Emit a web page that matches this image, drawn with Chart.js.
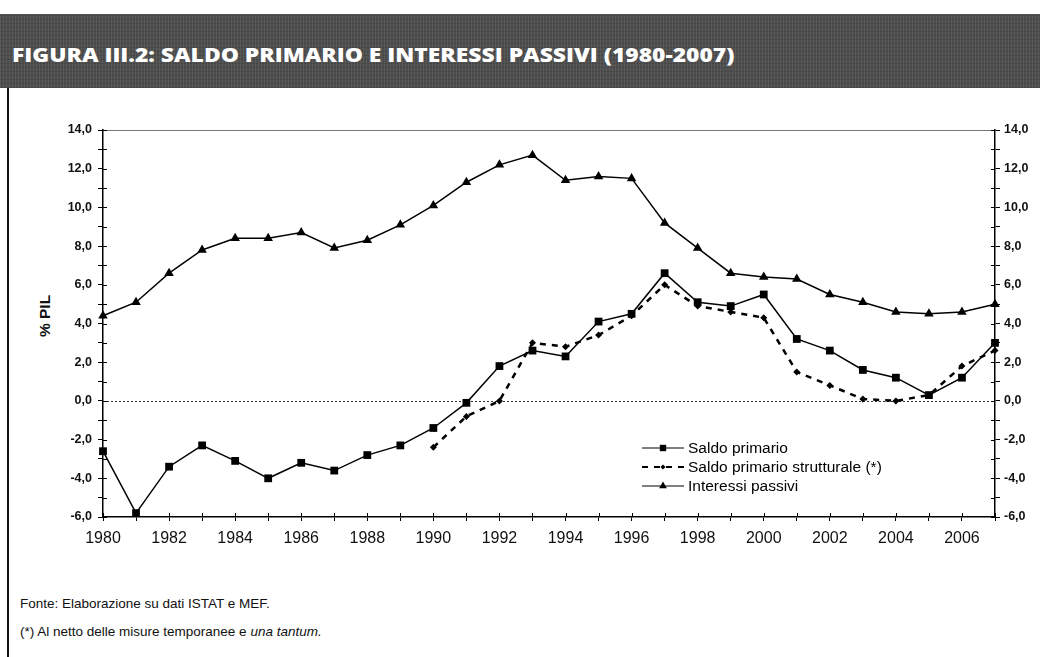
<!DOCTYPE html>
<html lang="it">
<head>
<meta charset="utf-8">
<title>Figura III.2 - Saldo primario e interessi passivi (1980-2007)</title>
<script src="https://cdn.jsdelivr.net/npm/chart.js@4.4.1/dist/chart.umd.min.js"></script>
<style>
    html, body { margin: 0; padding: 0; background: #fff; }
    body { width: 1040px; height: 657px; position: relative; overflow: hidden;
           font-family: Arial, "Liberation Sans", sans-serif; color: #111; }
    #band { position: absolute; left: 0; top: 14px; width: 1040px; height: 74px;
            background-color: #4e4e4e;
            background-image:
                repeating-linear-gradient(90deg, rgba(255,255,255,.07) 0 1px, transparent 1px 3px),
                repeating-linear-gradient(0deg, rgba(0,0,0,.12) 0 1px, transparent 1px 4px); }
    #title { position: absolute; left: 12px; top: 43px; color: #fff; white-space: nowrap;
             font: 800 20px "Open Sans", "DejaVu Sans", sans-serif; line-height: 24px;
             transform-origin: left center; }
    #frame { position: absolute; left: 7px; top: 88px; width: 2px; height: 569px; background: #111; }
    #ylab { position: absolute; left: 45px; top: 316px; font-weight: bold; font-size: 15.5px;
            transform: translate(-50%, -50%) rotate(-90deg); white-space: nowrap; }
    .note { position: absolute; left: 20px; font-size: 13.5px; white-space: nowrap; }
    canvas { position: absolute; left: 0; top: 0; }
</style>
</head>
<body>
<div id="band"></div>
<div id="title">FIGURA III.2: SALDO PRIMARIO E INTERESSI PASSIVI (1980-2007)</div>
<div id="frame"></div>
<div id="ylab">% PIL</div>
<div class="note" style="top:596px">Fonte: Elaborazione su dati ISTAT e MEF.</div>
<div class="note" style="top:624px">(*) Al netto delle misure temporanee e <i>una tantum.</i></div>
<canvas id="chart" width="1040" height="657"></canvas>
<script>
'use strict';

const years = [1980, 1981, 1982, 1983, 1984, 1985, 1986, 1987, 1988, 1989,
               1990, 1991, 1992, 1993, 1994, 1995, 1996, 1997, 1998, 1999,
               2000, 2001, 2002, 2003, 2004, 2005, 2006, 2007];

const saldoPrimario = [-2.6, -5.8, -3.4, -2.3, -3.1, -4.0, -3.2, -3.6, -2.8, -2.3,
                       -1.4, -0.1, 1.8, 2.6, 2.3, 4.1, 4.5, 6.6, 5.1, 4.9,
                       5.5, 3.2, 2.6, 1.6, 1.2, 0.3, 1.2, 3.0];

const saldoStrutturale = [null, null, null, null, null, null, null, null, null, null,
                          -2.4, -0.8, 0.0, 3.0, 2.8, 3.4, 4.4, 6.0, 4.9, 4.6,
                          4.3, 1.5, 0.8, 0.1, 0.0, 0.3, 1.8, 2.6];

const interessiPassivi = [4.4, 5.1, 6.6, 7.8, 8.4, 8.4, 8.7, 7.9, 8.3, 9.1,
                          10.1, 11.3, 12.2, 12.7, 11.4, 11.6, 11.5, 9.2, 7.9, 6.6,
                          6.4, 6.3, 5.5, 5.1, 4.6, 4.5, 4.6, 5.0];

const yMin = -6, yMax = 14;

// squeeze the title into the width it has in the print
(function () {
    const t = document.getElementById('title');
    t.style.transform = 'scaleX(' + (723 / t.offsetWidth) + ')';
})();

const fmt = v => (v % 2 === 0) ? v.toFixed(1).replace('.', ',') : '';

// zero line, top border and the inner half of the crossing ticks
const frameLines = {
    id: 'frameLines',
    beforeDatasetsDraw(chart) {
        const { ctx, chartArea: a, scales } = chart;
        ctx.save();
        ctx.strokeStyle = '#333';
        ctx.lineWidth = 1;
        ctx.setLineDash([2, 2]);
        const y0 = Math.round(scales.y.getPixelForValue(0)) + 0.5;
        ctx.beginPath(); ctx.moveTo(a.left, y0); ctx.lineTo(a.right, y0); ctx.stroke();
        ctx.setLineDash([]);
        ctx.strokeStyle = '#777';
        ctx.beginPath(); ctx.moveTo(a.left, a.top + 0.5); ctx.lineTo(a.right, a.top + 0.5); ctx.stroke();

        ctx.strokeStyle = '#000';
        scales.y.ticks.forEach((t, i) => {
            const p = Math.round(scales.y.getPixelForTick(i)) + 0.5;
            ctx.beginPath(); ctx.moveTo(a.left, p); ctx.lineTo(a.left + 4, p); ctx.stroke();
        });
        scales.y2.ticks.forEach((t, i) => {
            const p = Math.round(scales.y2.getPixelForTick(i)) + 0.5;
            ctx.beginPath(); ctx.moveTo(a.right, p); ctx.lineTo(a.right - 4, p); ctx.stroke();
        });
        scales.x.ticks.forEach((t, i) => {
            const p = Math.round(scales.x.getPixelForTick(i)) + 0.5;
            ctx.beginPath(); ctx.moveTo(p, a.bottom); ctx.lineTo(p, a.bottom - 4); ctx.stroke();
        });
        ctx.restore();
    }
};

function drawMarker(ctx, style, x, y, r) {
    ctx.beginPath();
    if (style === 'rect') {
        const s = Math.SQRT1_2 * r;
        ctx.rect(x - s, y - s, 2 * s, 2 * s);
    } else if (style === 'rectRot') {
        ctx.moveTo(x, y - r); ctx.lineTo(x + r, y); ctx.lineTo(x, y + r); ctx.lineTo(x - r, y);
        ctx.closePath();
    } else {
        ctx.moveTo(x, y - r);
        ctx.lineTo(x + r * 0.866, y + r * 0.5);
        ctx.lineTo(x - r * 0.866, y + r * 0.5);
        ctx.closePath();
    }
    ctx.fill();
}

// legend sits inside the plot, lower right, like the original
const insideLegend = {
    id: 'insideLegend',
    afterDraw(chart) {
        const { ctx } = chart;
        const x0 = 642, w = 42, rows = [448, 467, 486];
        ctx.save();
        ctx.font = '15.5px Arial, "Liberation Sans", sans-serif';
        ctx.textBaseline = 'middle';
        chart.data.datasets.forEach((ds, i) => {
            const y = rows[i];
            ctx.strokeStyle = '#000';
            ctx.fillStyle = '#000';
            ctx.lineWidth = ds.borderDash ? 2 : 1;
            ctx.setLineDash(ds.borderDash || []);
            ctx.beginPath(); ctx.moveTo(x0, y); ctx.lineTo(x0 + w, y); ctx.stroke();
            ctx.setLineDash([]);
            drawMarker(ctx, ds.pointStyle, x0 + w / 2, y, ds.pointRadius - 1);
            ctx.fillText(ds.label, x0 + w + 4, y + 1);
        });
        ctx.restore();
    }
};

const tickFont = { family: 'Arial, "Liberation Sans", sans-serif', size: 12.5, weight: 'bold' };

new Chart(document.getElementById('chart'), {
    type: 'line',
    data: {
        labels: years,
        datasets: [
            { label: 'Saldo primario', data: saldoPrimario, yAxisID: 'y',
              borderColor: '#000', backgroundColor: '#000', borderWidth: 1.5,
              pointStyle: 'rect', pointRadius: 5.5, pointBorderWidth: 0, tension: 0 },
            { label: 'Saldo primario strutturale (*)', data: saldoStrutturale, yAxisID: 'y',
              borderColor: '#000', backgroundColor: '#000', borderWidth: 2.5, borderDash: [6, 6],
              pointStyle: 'rectRot', pointRadius: 3.5, pointBorderWidth: 0, tension: 0, spanGaps: false },
            { label: 'Interessi passivi', data: interessiPassivi, yAxisID: 'y',
              borderColor: '#000', backgroundColor: '#000', borderWidth: 1.5,
              pointStyle: 'triangle', pointRadius: 5.5, pointBorderWidth: 0, tension: 0 }
        ]
    },
    options: {
        responsive: false,
        animation: false,
        devicePixelRatio: 1,
        clip: false,
        layout: { padding: { top: 130, left: 0, right: 0, bottom: 0 } },
        plugins: { legend: { display: false }, tooltip: { enabled: false } },
        scales: {
            x: {
                type: 'category',
                offset: false,
                grid: { drawOnChartArea: false, drawTicks: true, tickLength: 4, tickColor: '#000' },
                border: { color: '#000', width: 1.5 },
                ticks: {
                    autoSkip: false, maxRotation: 0, padding: 8, color: '#111',
                    font: { family: 'Arial, "Liberation Sans", sans-serif', size: 16 },
                    callback: function (v, i) { return years[i] % 2 === 0 ? String(years[i]) : ''; }
                },
                afterFit: s => { s.height = 140; }
            },
            y: {
                position: 'left', min: yMin, max: yMax,
                grid: { drawOnChartArea: false, tickLength: 5, tickColor: '#000' },
                border: { color: '#000', width: 1.5 },
                ticks: { stepSize: 1, autoSkip: false, padding: 6, color: '#111', font: tickFont,
                         callback: v => fmt(v) },
                afterFit: s => { s.width = 103; }
            },
            y2: {
                position: 'right', min: yMin, max: yMax,
                grid: { drawOnChartArea: false, tickLength: 5, tickColor: '#000' },
                border: { color: '#000', width: 1.5 },
                ticks: { stepSize: 1, autoSkip: false, padding: 4, color: '#111', font: tickFont,
                         callback: v => fmt(v) },
                afterFit: s => { s.width = 45; }
            }
        }
    },
    plugins: [frameLines, insideLegend]
});
</script>
</body>
</html>
